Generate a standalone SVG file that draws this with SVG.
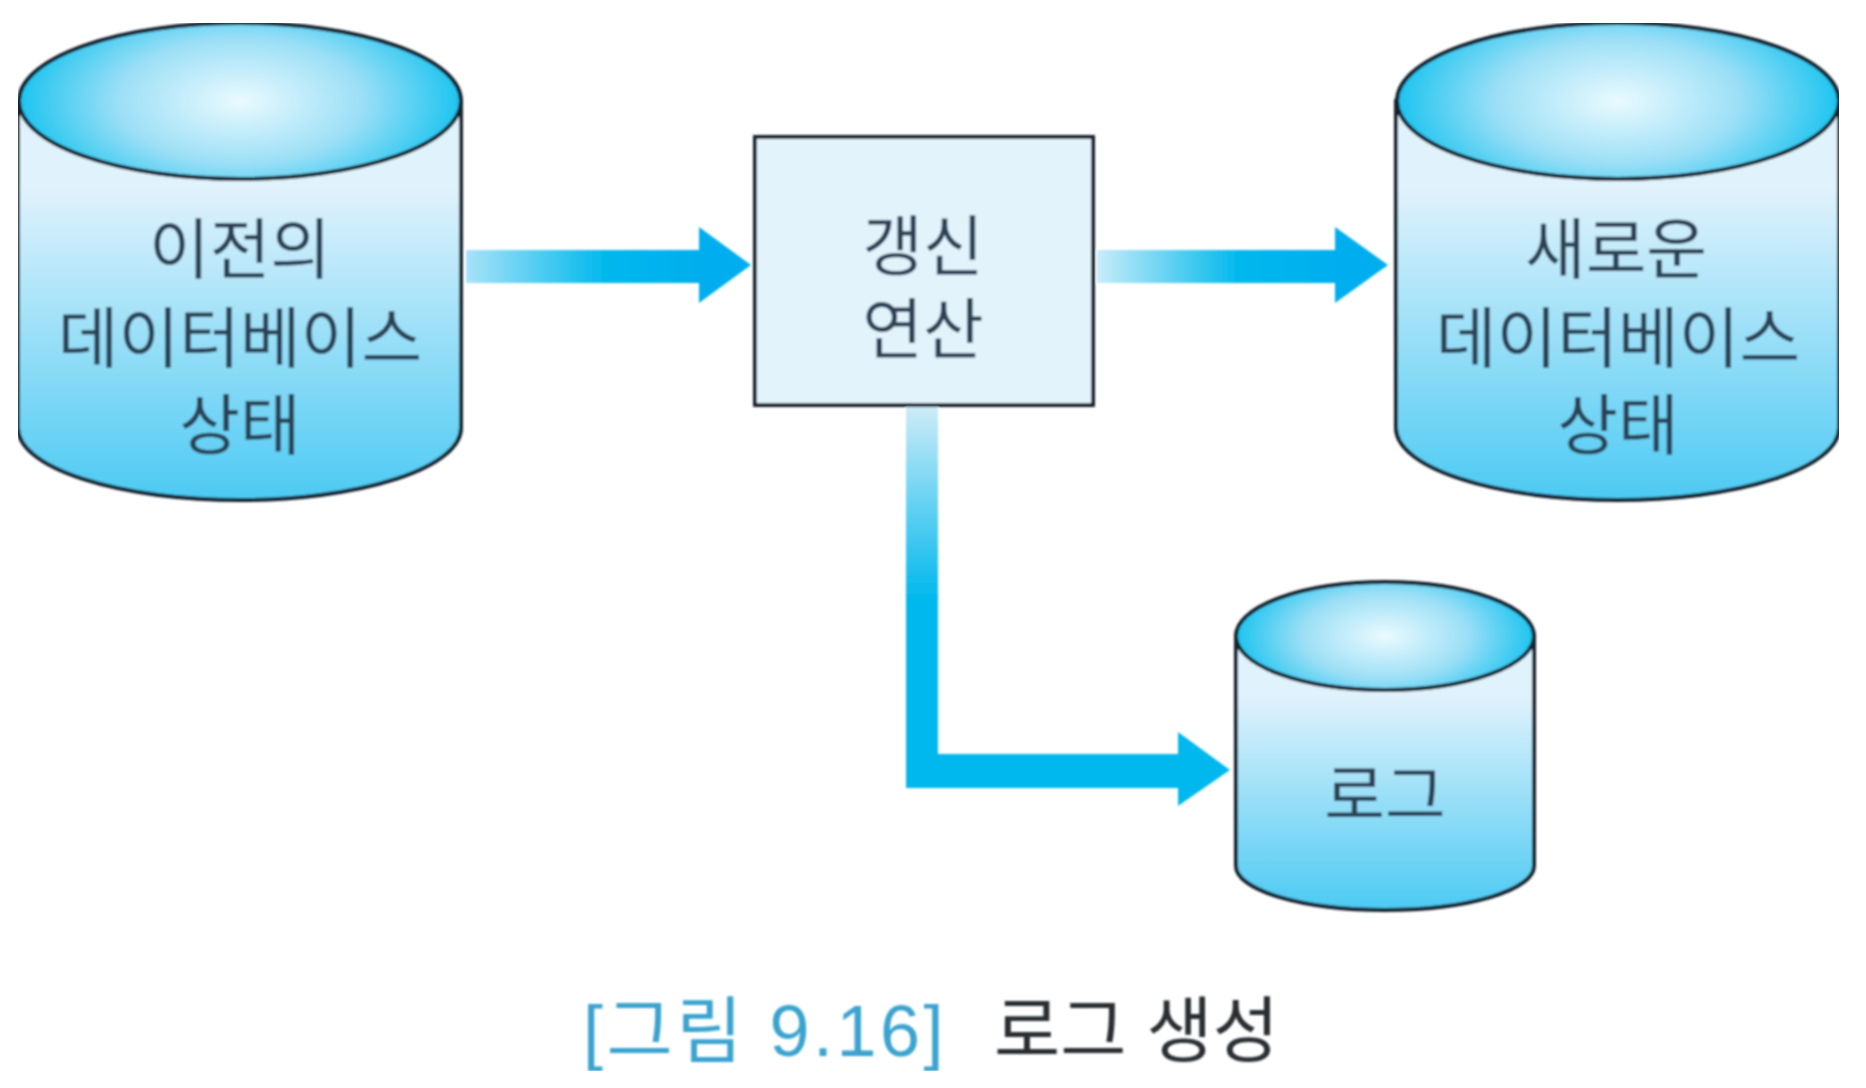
<svg xmlns="http://www.w3.org/2000/svg" width="1866" height="1088" viewBox="0 0 1866 1088">
<style>
.o{stroke:#16232e;stroke-width:4}
.t{font-family:"Noto Sans CJK KR","Noto Sans",sans-serif;font-size:66px;fill:#2c4256;text-anchor:middle;font-weight:400}
.c{font-family:"Liberation Sans","Noto Sans CJK KR",sans-serif;font-size:72px;font-weight:400}
</style>
<defs>
<filter id="soft" x="0" y="0" width="1" height="1" filterUnits="objectBoundingBox"><feGaussianBlur stdDeviation="0.9"/></filter>
<linearGradient id="body" x1="0" y1="0" x2="0" y2="1"><stop offset="0.22" stop-color="#e0f2fc"/><stop offset="1" stop-color="#4ccaf3"/></linearGradient>
<radialGradient id="top" cx="0.5" cy="0.5" r="0.5" gradientTransform="translate(0.5 0.5) scale(1 1.45) translate(-0.5 -0.5)"><stop offset="0" stop-color="#eafaff"/><stop offset="0.55" stop-color="#9cdff6"/><stop offset="1" stop-color="#1cc4f0"/></radialGradient>
<linearGradient id="a1" gradientUnits="userSpaceOnUse" x1="466" y1="0" x2="700" y2="0"><stop offset="0" stop-color="#a8e2f8"/><stop offset="0.6" stop-color="#00b8ec"/><stop offset="1" stop-color="#00aeef"/></linearGradient>
<linearGradient id="a2" gradientUnits="userSpaceOnUse" x1="1097" y1="0" x2="1335" y2="0"><stop offset="0" stop-color="#c8ecf9"/><stop offset="0.6" stop-color="#00b8ec"/><stop offset="1" stop-color="#00aeef"/></linearGradient>
<linearGradient id="a3" gradientUnits="userSpaceOnUse" x1="0" y1="407" x2="0" y2="600"><stop offset="0" stop-color="#cdebf7"/><stop offset="1" stop-color="#00b8ee"/></linearGradient>
</defs>
<rect width="1866" height="1088" fill="#fff"/>
<g filter="url(#soft)">
<g id="connectors">
<path fill="url(#a1)" d="M466 250H699V227L751 265L699 303V283H466Z"/>
<path fill="url(#a2)" d="M1097 250H1335V227L1388 265L1335 303V283H1097Z"/>
<path fill="url(#a3)" d="M906 407H938V754H1178V732L1230 770L1178 806V788H906Z"/>
</g>
<g id="node-old">
<path class="o" fill="url(#body)" d="M18 101V428A221.500 72 0 0 0 461 428V101Z"/>
<ellipse class="o" fill="url(#top)" cx="240" cy="101" rx="221" ry="78"/>
<text class="t" x="240" y="273">이전의</text>
<text class="t" x="240" y="362">데이터베이스</text>
<text class="t" x="240" y="449">상태</text>
</g>
<g id="node-update">
<rect class="o" fill="#e3f3fb" x="755" y="137" width="338" height="268"/>
<text class="t" x="923" y="270">갱신</text>
<text class="t" x="923" y="353">연산</text>
</g>
<g id="node-new">
<path class="o" fill="url(#body)" d="M1396 101V428A221.500 72 0 0 0 1839 428V101Z"/>
<ellipse class="o" fill="url(#top)" cx="1618" cy="101" rx="221" ry="78"/>
<text class="t" x="1616" y="273">새로운</text>
<text class="t" x="1618" y="362">데이터베이스</text>
<text class="t" x="1618" y="449">상태</text>
</g>
<g id="node-log">
<path class="o" fill="url(#body)" d="M1236 636V866A149 44 0 0 0 1534 866V636Z"/>
<ellipse class="o" fill="url(#top)" cx="1385" cy="636" rx="149" ry="54"/>
<text class="t" x="1385" y="819">로그</text>
</g>
<g id="caption">
<text class="c" x="583" y="1056" fill="#3ba3cf" letter-spacing="3.500">[그림 9.16]</text>
<text class="c" x="994" y="1056" fill="#2a2f33">로그 생성</text>
</g>
</g>
</svg>
